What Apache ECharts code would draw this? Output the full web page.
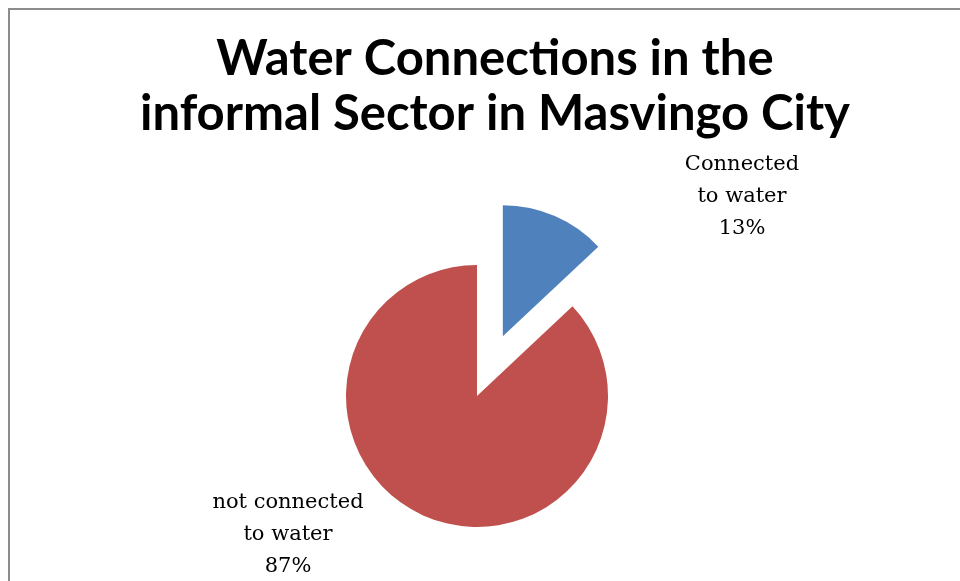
<!DOCTYPE html>
<html>
<head>
<meta charset="utf-8">
<script src="https://cdn.jsdelivr.net/npm/echarts@6/dist/echarts.min.js"></script>
<style>
html,body{margin:0;padding:0;background:#fff;}
#chart{width:960px;height:581px;}
</style>
</head>
<body>
<div id="chart"></div>
<script>
const titleLines = ['Water Connections in the', 'informal Sector in Masvingo City'];
const categories = ['Connected\nto water', 'not connected\nto water'];
const values = [13, 87];
const colors = ['#4F81BD', '#C0504D'];
const explodedIndex = 0;

// layout (not data)
const pieCenter = [477, 396];
const pieRadius = 131;
const explodeDist = 65;
const labelPos = [[742, 197], [288, 535]];

const total = values.reduce((a, b) => a + b, 0);
// mid angle of exploded slice (start at top, clockwise)
let before = 0;
for (let i = 0; i < explodedIndex; i++) before += values[i];
const midDeg = 90 - 360 * (before + values[explodedIndex] / 2) / total;
const midRad = midDeg * Math.PI / 180;
const explodedCenter = [
  pieCenter[0] + explodeDist * Math.cos(midRad),
  pieCenter[1] - explodeDist * Math.sin(midRad)
];

function makeSeries(showIndexFn, center) {
  return {
    type: 'pie',
    center: center,
    radius: pieRadius,
    startAngle: 90,
    clockwise: true,
    silent: true,
    emphasis: {disabled: true},
    labelLine: {show: false},
    label: {
      show: true,
      formatter: '{b}\n{d}%',
      fontFamily: 'DejaVu Serif',
      fontSize: 21,
      lineHeight: 32,
      color: '#000',
      align: 'center'
    },
    labelLayout: function (p) {
      const pos = labelPos[p.dataIndex];
      return {x: pos[0], y: pos[1], align: 'center', verticalAlign: 'middle'};
    },
    data: categories.map((c, i) => {
      const shown = showIndexFn(i);
      return {
        name: c,
        value: values[i],
        itemStyle: {color: shown ? colors[i] : 'rgba(0,0,0,0)'},
        label: {show: shown}
      };
    })
  };
}

const chart = echarts.init(document.getElementById('chart'), null, {renderer: 'canvas'});
chart.setOption({
  animation: false,
  backgroundColor: '#ffffff',
  title: {
    text: titleLines.join('\n'),
    left: 490,
    top: 27,
    textAlign: 'center',
    textStyle: {
      fontFamily: 'Lato',
      fontWeight: 'bold',
      fontSize: 49,
      lineHeight: 55,
      color: '#000'
    }
  },
  graphic: [{
    type: 'rect',
    shape: {x: 9, y: 9, width: 1000, height: 1000},
    style: {fill: 'none', stroke: '#8c8c8c', lineWidth: 2},
    silent: true
  }],
  series: [
    makeSeries(i => i !== explodedIndex, pieCenter),
    makeSeries(i => i === explodedIndex, explodedCenter)
  ]
});
</script>
</body>
</html>
